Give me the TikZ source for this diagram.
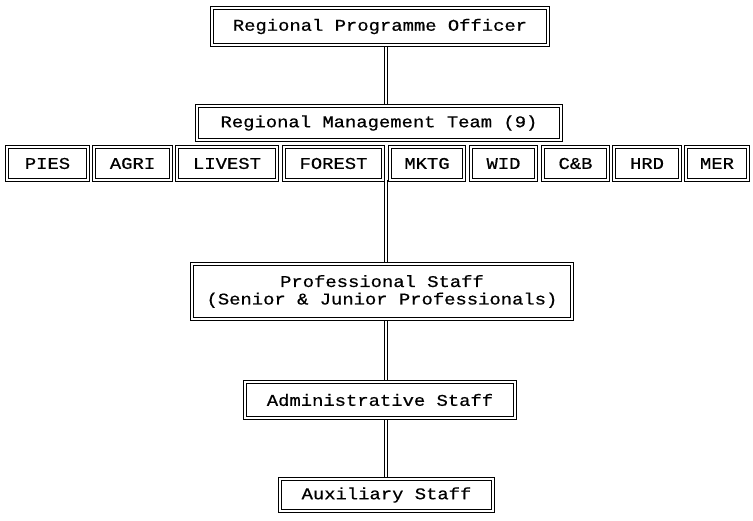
\documentclass[tikz,border=0pt]{standalone}
\usepackage{fontspec}
\newfontfamily\chartfont{Liberation Mono}[FakeStretch=1.15,FakeBold=0.6]
\pgfdeclarelayer{bg}
\pgfsetlayers{bg,main}
\tikzset{
  box/.style={draw, double, double distance=1.6pt, line width=0.9pt, fill=white,
    inner sep=0pt, align=center, font=\chartfont\fontsize{16.4}{17.5}\selectfont},
  conn/.style={draw, double, double distance=1.6pt, line width=0.9pt}
}
\begin{document}
\begin{tikzpicture}[x=1pt,y=-1pt]
\useasboundingbox (0,0) rectangle (753,520);
\coordinate (axis) at (386,0);
\node[box, minimum width=336, minimum height=37] (rpo) at (380,26.5) {Regional Programme Officer};
\node[box, minimum width=364, minimum height=34] (rmt) at (379,123) {Regional Management Team (9)};
\node[box, minimum width=81, minimum height=33] (pies) at (47.5,163.5) {PIES};
\node[box, minimum width=77, minimum height=33] (agri) at (132.5,163.5) {AGRI};
\node[box, minimum width=100, minimum height=33] (livest) at (227,163.5) {LIVEST};
\node[box, minimum width=99, minimum height=33] (forest) at (333.5,163.5) {FOREST};
\node[box, minimum width=74, minimum height=33] (mktg) at (427,163.5) {MKTG};
\node[box, minimum width=65, minimum height=33] (wid) at (503.5,163.5) {WID};
\node[box, minimum width=65, minimum height=33] (cb) at (575.5,163.5) {C\&B};
\node[box, minimum width=66, minimum height=33] (hrd) at (647,163.5) {HRD};
\node[box, minimum width=62, minimum height=33] (mer) at (717,163.5) {MER};
\node[box, minimum width=380, minimum height=55] (prof) at (382,291.5) {Professional Staff\\(Senior \& Junior Professionals)};
\node[box, minimum width=270, minimum height=36] (admin) at (380,400) {Administrative Staff};
\node[box, minimum width=213, minimum height=32] (aux) at (386.5,495) {Auxiliary Staff};
\begin{pgfonlayer}{bg}
\draw[conn] (rpo.south -| axis) -- (rmt.north -| axis);
\draw[conn] (forest.south -| axis) -- (prof.north -| axis);
\draw[conn] (prof.south -| axis) -- (admin.north -| axis);
\draw[conn] (admin.south -| axis) -- (aux.north -| axis);
\end{pgfonlayer}
\end{tikzpicture}
\end{document}
